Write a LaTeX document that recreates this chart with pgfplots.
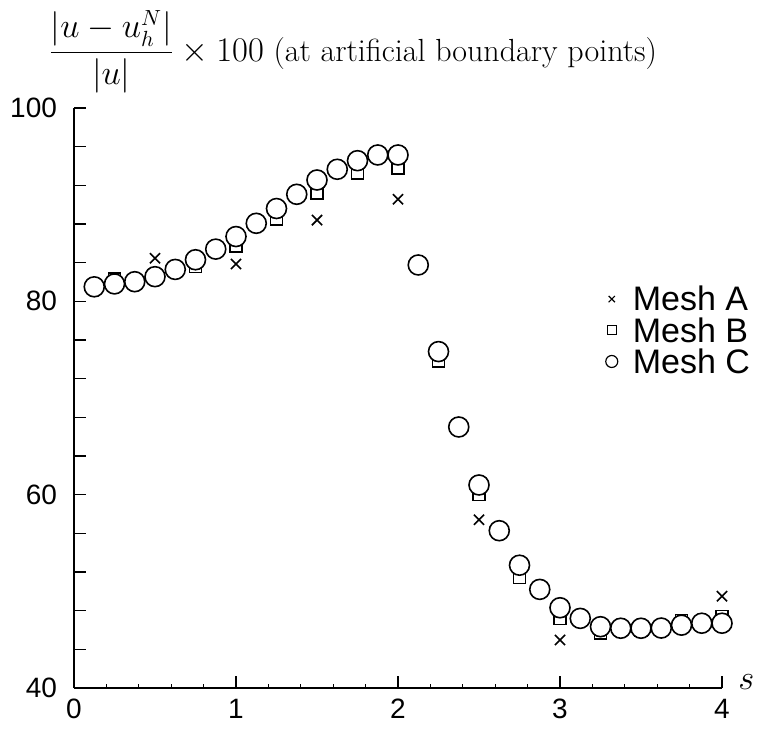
\documentclass[border=0pt]{standalone}
\usepackage{fontspec}
\newfontfamily\hv{Liberation Sans}
\usepackage{pgfplots}
\pgfplotsset{compat=1.18}

\pgfplotstableread{
s err
0.5 84.45
1.0 83.86
1.5 88.4
2.0 90.56
2.5 57.4
3.0 44.97
3.5 46.0
4.0 49.5
}\meshA

\pgfplotstableread{
s err
0.25 82.3
0.5 82.5
0.75 83.6
1.0 85.7
1.25 88.5
1.5 91.2
1.75 93.3
2.0 93.8
2.25 73.8
2.5 60.0
2.75 51.45
3.0 47.2
3.25 45.7
3.5 46.0
3.75 47.0
4.0 47.4
}\meshB

\pgfplotstableread{
s err
0.125 81.5
0.25 81.8
0.375 82.03
0.5 82.55
0.625 83.3
0.75 84.3
0.875 85.4
1.0 86.7
1.125 88.07
1.25 89.6
1.375 91.07
1.5 92.55
1.625 93.66
1.75 94.55
1.875 95.14
2.0 95.14
2.125 83.76
2.25 74.8
2.375 67.0
2.5 61.0
2.625 56.27
2.75 52.7
2.875 50.2
3.0 48.3
3.125 47.2
3.25 46.34
3.375 46.18
3.5 46.18
3.625 46.2
3.75 46.5
3.875 46.7
4.0 46.7
}\meshC

\begin{document}
\begin{tikzpicture}
\begin{axis}[
    scale only axis,
    width=324pt, height=290pt,
    xmin=0, xmax=4, ymin=40, ymax=100,
    axis x line=bottom, axis y line=left,
    axis line style={-, line width=1.1pt},
    tick align=inside,
    xtick={0,1,2,3,4}, minor x tick num=4,
    ytick={40,44,...,100},
    yticklabels={40,,,,,60,,,,,80,,,,,100},
    major tick length=6pt, minor tick length=2pt,
    tick style={black, line width=0.6pt},
    /pgf/number format/assume math mode=true,
    ticklabel style={font=\hv\fontsize{14}{16}\selectfont},
    yticklabel style={xshift=-5pt},
    xticklabel style={yshift=-2pt},
    clip=false,
    legend style={at={(rel axis cs:0.82,0.695)}, anchor=north west,
        draw=none, fill=none, font=\hv\fontsize{17}{17}\selectfont,
        nodes={inner sep=0.5pt, text height=12.3pt, text depth=0.5pt},
        row sep=1.8pt, inner sep=0pt},
    legend cell align=left,
]
\addlegendimage{only marks, mark=x, mark size=2.2pt, black, mark options={line width=0.6pt}}
\addlegendentry{\hspace{7pt}Mesh A}
\addlegendimage{only marks, mark=square, mark size=2.2pt, black, mark options={line width=0.6pt}}
\addlegendentry{\hspace{7pt}Mesh B}
\addlegendimage{only marks, mark=o, mark size=3pt, black, mark options={line width=0.6pt}}
\addlegendentry{\hspace{7pt}Mesh C}

\addplot[forget plot, only marks, mark=x, mark size=3.6pt, black, mark options={line width=0.8pt}] table[x=s, y=err] {\meshA};
\addplot[forget plot, only marks, mark=square*, mark size=3pt, black, mark options={fill=white, line width=0.8pt}] table[x=s, y=err] {\meshB};
\addplot[forget plot, only marks, mark=*, mark size=5pt, black, mark options={fill=white, line width=0.8pt}] table[x=s, y=err] {\meshC};

\node[anchor=west, inner sep=0pt] at ([xshift=8pt, yshift=3pt]rel axis cs:1,0) {\fontsize{16}{18}\selectfont$s$};
\node[anchor=west, inner sep=0pt] at ([xshift=-13pt, yshift=28pt]rel axis cs:0,1)
    {\fontsize{16}{19}\selectfont$\displaystyle\frac{|u-u_h^N|}{|u|}\times 100$ (at artificial boundary points)};
\path ([xshift=-37pt, yshift=54pt]rel axis cs:0,1) ([xshift=21pt, yshift=-22.5pt]rel axis cs:1,0);
\end{axis}
\end{tikzpicture}
\end{document}
